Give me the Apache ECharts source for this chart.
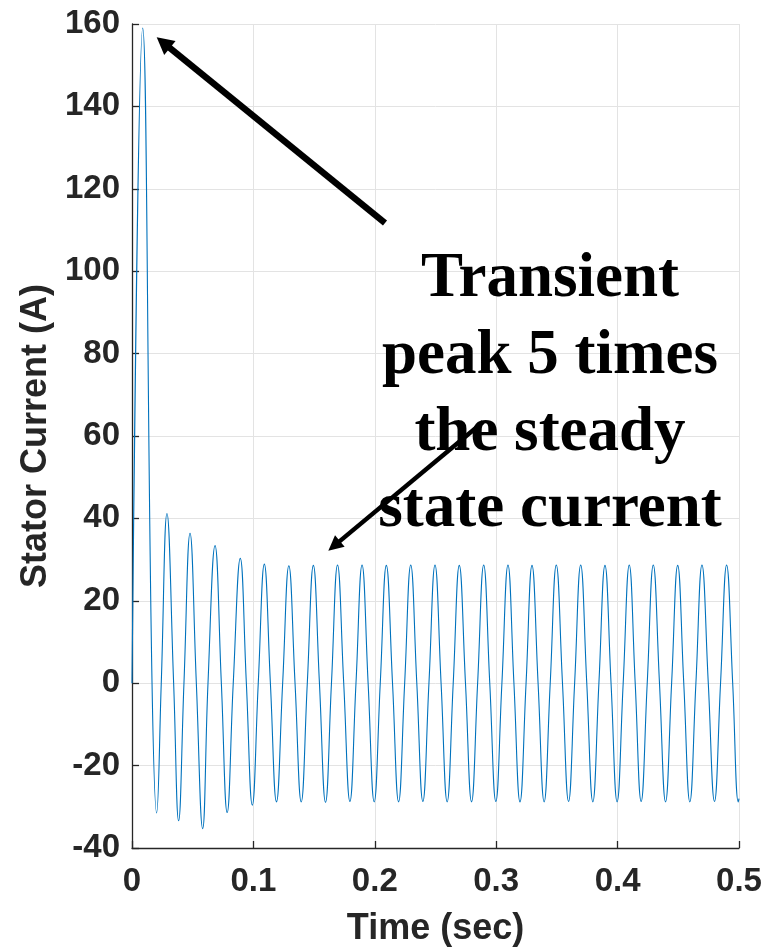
<!DOCTYPE html>
<html>
<head>
<meta charset="utf-8">
<script src="https://cdn.jsdelivr.net/npm/echarts@6/dist/echarts.min.js"></script>
<style>
  html, body { margin: 0; padding: 0; background: #ffffff; }
  #chart { width: 769px; height: 952px; }
</style>
</head>
<body>
<div id="chart"></div>
<script>
// ---- data ----
const xTicks = [0, 0.1, 0.2, 0.3, 0.4, 0.5];
const yTicks = [-40, -20, 0, 20, 40, 60, 80, 100, 120, 140, 160];

const timeSec = [
  0, 0.0088, 0.0165, 0.0203, 0.0241, 0.0288, 0.0343, 0.0384, 0.0428, 0.0478, 0.0530,
  0.0582, 0.0626, 0.0684, 0.0736, 0.0784, 0.0834, 0.0892, 0.0942, 0.0991, 0.1040,
  0.1090, 0.1140, 0.1190, 0.1241,
  0.1292, 0.1343, 0.1394, 0.1444,
  0.1494, 0.1544, 0.1594, 0.1643,
  0.1693, 0.1744, 0.1795, 0.1845,
  0.1895, 0.1945, 0.1995, 0.2045,
  0.2095, 0.2146, 0.2196, 0.2246,
  0.2296, 0.2346, 0.2396, 0.2446,
  0.2496, 0.2546, 0.2596, 0.2646,
  0.2696, 0.2747, 0.2797, 0.2847,
  0.2897, 0.2947, 0.2997, 0.3047,
  0.3097, 0.3146, 0.3196, 0.3246,
  0.3295, 0.3345, 0.3395, 0.3445,
  0.3495, 0.3546, 0.3596, 0.3646,
  0.3696, 0.3746, 0.3796, 0.3846,
  0.3896, 0.3946, 0.3996, 0.4046,
  0.4096, 0.4145, 0.4194, 0.4244,
  0.4294, 0.4345, 0.4395, 0.4445,
  0.4495, 0.4545, 0.4595, 0.4645,
  0.4695, 0.4747, 0.4798, 0.4848,
  0.4898, 0.4948, 0.4994,
  0.5
];

const currentA = [
  0, 159.0, 0, -31.5, 0, 41.2, 0, -33.4, 0, 36.4, 0,
  -35.3, 0, 33.4, 0, -31.4, 0, 30.3, 0, -29.6, 0,
  28.9, 0, -28.8, 0,
  28.5, 0, -28.8, 0,
  28.6, 0, -28.9, 0,
  28.7, 0, -28.7, 0,
  28.7, 0, -28.8, 0,
  28.6, 0, -28.8, 0,
  28.7, 0, -28.7, 0,
  28.7, 0, -28.8, 0,
  28.6, 0, -28.8, 0,
  28.7, 0, -28.7, 0,
  28.7, 0, -28.8, 0,
  28.6, 0, -28.8, 0,
  28.7, 0, -28.7, 0,
  28.7, 0, -28.8, 0,
  28.6, 0, -28.8, 0,
  28.7, 0, -28.7, 0,
  28.7, 0, -28.8, 0,
  28.6, 0, -28.8, 0,
  28.7, 0, -28.7, 0,
  28.7, 0, -28.8,
  -28.0
];

const annotationLines = ['Transient', 'peak 5 times', 'the steady', 'state current'];

// ---- chart ----
const chart = echarts.init(document.getElementById('chart'), null, { renderer: 'canvas' });
const axisColor = '#262626';
const gridColor = '#e3e3e3';
const tickFont = 'Liberation Sans, Arial, sans-serif';

function arrow(x1, y1, x2, y2, w, headLen, headHalf) {
  // from (x1,y1) tail to (x2,y2) tip
  const dx = x2 - x1, dy = y2 - y1;
  const L = Math.sqrt(dx * dx + dy * dy);
  const ux = dx / L, uy = dy / L;
  const bx = x2 - ux * headLen, by = y2 - uy * headLen;
  const px = -uy, py = ux;
  return [
    { type: 'line', z: 100, shape: { x1: x1, y1: y1, x2: bx + ux * 2, y2: by + uy * 2 },
      style: { stroke: '#000', lineWidth: w, lineCap: 'butt' } },
    { type: 'polygon', z: 100, shape: { points: [[x2, y2], [bx + px * headHalf, by + py * headHalf], [bx - px * headHalf, by - py * headHalf]] },
      style: { fill: '#000' } }
  ];
}

const textCenterX = 550;
const textMiddles = [280, 357, 434, 510];
const textGraphics = annotationLines.map((s, i) => ({
  type: 'text', z: 90,
  style: {
    x: textCenterX, y: textMiddles[i], text: s,
    font: 'bold 63px "Liberation Serif", "Times New Roman", serif',
    fill: '#000', textAlign: 'center', textVerticalAlign: 'middle'
  }
}));

const option = {
  animation: false,
  backgroundColor: '#ffffff',
  grid: { left: 132, right: 30, top: 24, bottom: 104, containLabel: false, outerBoundsMode: 'none' },
  xAxis: {
    type: 'value',
    min: xTicks[0], max: xTicks[xTicks.length - 1], interval: 0.1,
    name: 'Time (sec)', nameLocation: 'middle', nameGap: 63,
    nameTextStyle: { fontFamily: tickFont, fontWeight: 'bold', fontSize: 36, color: axisColor },
    axisLine: { show: true, onZero: false, lineStyle: { color: axisColor, width: 1.3 } },
    axisTick: { show: true, inside: true, length: 7, lineStyle: { color: axisColor, width: 1.3 } },
    axisLabel: { fontFamily: tickFont, fontWeight: 'bold', fontSize: 33, color: axisColor, margin: 17 },
    splitLine: { show: true, lineStyle: { color: gridColor, width: 1 } }
  },
  yAxis: {
    type: 'value',
    min: yTicks[0], max: yTicks[yTicks.length - 1], interval: 20,
    name: 'Stator Current (A)', nameLocation: 'middle', nameGap: 77,
    nameTextStyle: { fontFamily: tickFont, fontWeight: 'bold', fontSize: 36, color: axisColor },
    axisLine: { show: true, onZero: false, lineStyle: { color: axisColor, width: 1.3 } },
    axisTick: { show: true, inside: true, length: 7, lineStyle: { color: axisColor, width: 1.3 } },
    axisLabel: { fontFamily: tickFont, fontWeight: 'bold', fontSize: 33, color: axisColor, margin: 12 },
    splitLine: { show: true, lineStyle: { color: gridColor, width: 1 } }
  },
  series: [{
    type: 'line',
    data: timeSec.map((t, i) => [t, currentA[i]]),
    showSymbol: false,
    smooth: 0.45,
    clip: true,
    lineStyle: { color: '#0072BD', width: 1.1 },
    itemStyle: { color: '#0072BD' }
  }],
  graphic: textGraphics
    .concat(arrow(385, 223, 156.7, 37.3, 6.5, 17, 9))
    .concat(arrow(483, 422, 328.3, 550.7, 4.5, 15, 7.5))
};

chart.setOption(option);
</script>
</body>
</html>
